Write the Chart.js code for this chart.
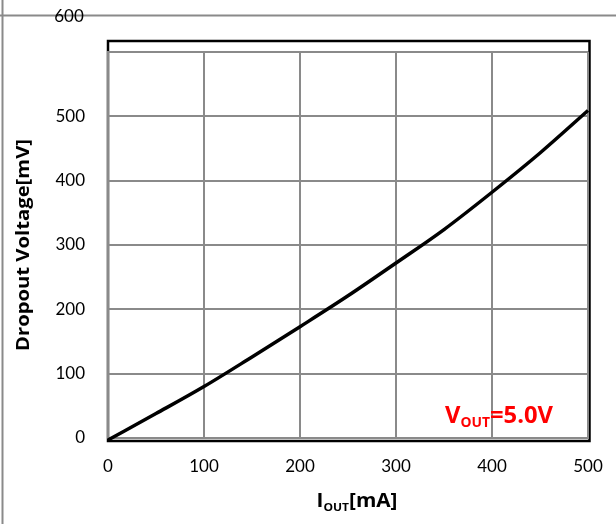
<!DOCTYPE html>
<html>
<head>
<meta charset="utf-8">
<script src="https://cdn.jsdelivr.net/npm/chart.js@4"></script>
<style>
  html, body { margin: 0; padding: 0; background: #fff; }
  #wrap { width: 616px; height: 524px; position: relative; }
</style>
</head>
<body>
<div id="wrap"><canvas id="myChart" width="616" height="524"></canvas></div>
<script>
// current [mA] and dropout voltage [mV]
var currentMa = [0, 50, 100, 150, 200, 250, 300, 350, 400, 450, 500];
var dropoutMv = [-3, 38, 80, 126, 173, 221, 272, 324, 382, 443, 509];
var xTicks = [0, 100, 200, 300, 400, 500];
var yTicks = [0, 100, 200, 300, 400, 500, 600];

var gridGray = "#8a8a8a";
var fontName = "Lato, 'Open Sans', sans-serif";
var boldName = "'Open Sans', Lato, sans-serif";

// draws the Excel-like extras: frame, stray 600 line, titles, note
const extras = {
  id: "extras",
  beforeDraw(chart) {
    const ctx = chart.ctx;
    const a = chart.chartArea;
    ctx.save();
    ctx.fillStyle = "#fff";
    ctx.fillRect(0, 0, chart.width, chart.height);
    // black plot frame sits a bit outside the grid
    ctx.strokeStyle = "#000";
    ctx.lineWidth = 2.5;
    ctx.strokeRect(a.left, a.top - 11, a.right - a.left + 1.5, a.bottom - a.top + 14);
    ctx.restore();
  },
  afterDraw(chart) {
    const ctx = chart.ctx;
    const a = chart.chartArea;
    ctx.save();
    // stray top line and left border
    ctx.strokeStyle = gridGray;
    ctx.lineWidth = 2;
    ctx.beginPath();
    ctx.moveTo(0, 15.5); ctx.lineTo(chart.width, 15.5);
    ctx.moveTo(2.5, 0); ctx.lineTo(2.5, chart.height);
    ctx.stroke();

    ctx.fillStyle = "#000";
    ctx.font = "17px " + fontName;
    ctx.textAlign = "center";
    ctx.textBaseline = "middle";
    ctx.fillText("600", 69, 17);

    // y title, squeezed/stretched to the width seen in the picture
    ctx.font = "bold 17px " + boldName;
    const t = "Dropout Voltage[mV]";
    const k = 212 / ctx.measureText(t).width;
    ctx.save();
    ctx.translate(24, (a.top + a.bottom) / 2);
    ctx.rotate(-Math.PI / 2);
    ctx.scale(k, 1);
    ctx.textBaseline = "middle";
    ctx.fillText(t, 0, 0);
    ctx.restore();

    // x title with subscript
    drawSub(ctx, "I", "OUT", "[mA]", 357, 507, 19, 11, 81, "#000");
    // red note
    drawSub(ctx, "V", "OUT", "=5.0V", 499, 423, 24, 14, 108, "#ff0000");
    ctx.restore();
  }
};

function drawSub(ctx, main, sub, rest, cx, baseY, big, small, target, color) {
  ctx.save();
  ctx.fillStyle = color;
  ctx.textAlign = "left";
  ctx.textBaseline = "alphabetic";
  ctx.font = "bold " + big + "px " + boldName;
  const w1 = ctx.measureText(main).width;
  const w3 = ctx.measureText(rest).width;
  ctx.font = "bold " + small + "px " + boldName;
  const w2 = ctx.measureText(sub).width;
  const total = w1 + w2 + w3;
  const k = target / total;
  ctx.translate(cx - target / 2, 0);
  ctx.scale(k, 1);
  let x = 0;
  ctx.font = "bold " + big + "px " + boldName;
  ctx.fillText(main, x, baseY);
  x += w1;
  ctx.font = "bold " + small + "px " + boldName;
  ctx.fillText(sub, x, baseY + 4);
  x += w2;
  ctx.font = "bold " + big + "px " + boldName;
  ctx.fillText(rest, x, baseY);
  ctx.restore();
}

const points = currentMa.map((c, i) => ({ x: c, y: dropoutMv[i] }));

const myChart = new Chart("myChart", {
  type: "line",
  data: {
    datasets: [{
      label: "Dropout",
      data: points,
      fill: false,
      borderColor: "#000",
      borderWidth: 3.5,
      pointRadius: 0,
      cubicInterpolationMode: "monotone",
      clip: false
    }]
  },
  options: {
    responsive: false,
    animation: false,
    layout: { padding: { top: 52, right: 28, left: 0, bottom: 0 } },
    plugins: { legend: { display: false }, tooltip: { enabled: false } },
    scales: {
      x: {
        type: "linear",
        min: 0,
        max: 500,
        afterBuildTicks: (s) => { s.ticks = xTicks.map(v => ({ value: v })); },
        afterFit: (s) => { s.height = 86; s.paddingRight = 0; s.paddingLeft = 0; },
        grid: { color: gridGray, lineWidth: 2, drawTicks: false },
        border: { color: gridGray, width: 2 },
        ticks: { color: "#000", font: { family: fontName, size: 17 }, padding: 18, maxRotation: 0 }
      },
      y: {
        min: 0,
        max: 600,
        afterBuildTicks: (s) => { s.ticks = yTicks.map(v => ({ value: v })); },
        afterFit: (s) => { s.width = 108; },
        grid: { color: gridGray, lineWidth: 2, drawTicks: false },
        border: { color: gridGray, width: 2 },
        ticks: {
          color: "#000",
          font: { family: fontName, size: 17 },
          padding: 23,
          callback: (v) => (v === 600 ? "" : v)
        }
      }
    }
  },
  plugins: [extras]
});
</script>
</body>
</html>
